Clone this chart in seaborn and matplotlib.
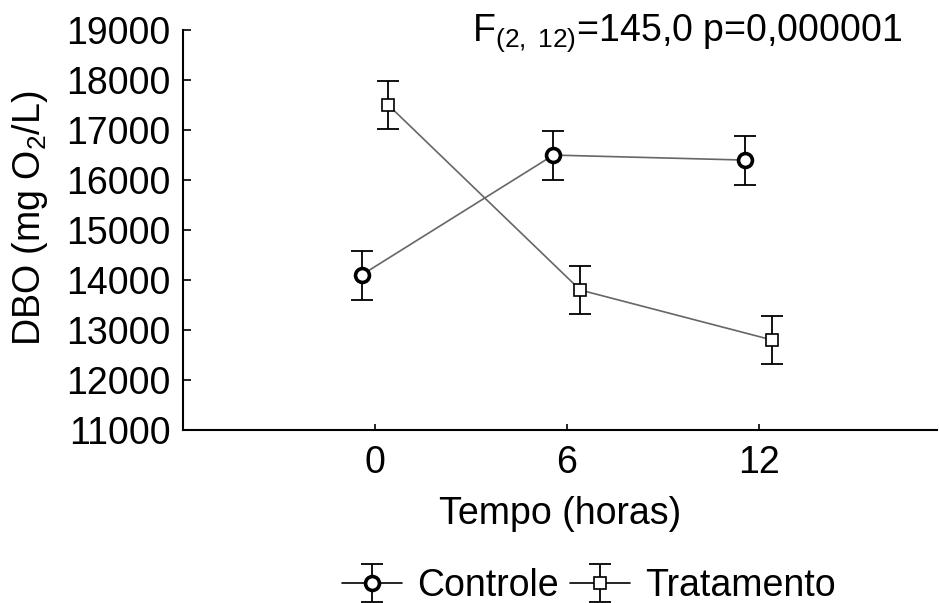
import matplotlib
matplotlib.use("Agg")
import matplotlib.pyplot as plt
import seaborn as sns
import numpy as np
import pandas as pd
from matplotlib.legend_handler import HandlerTuple
from matplotlib.lines import Line2D

tempo = ["0", "6", "12"]
controle = [14100, 16500, 16400]
controle_err = [490, 490, 490]
tratamento = [17500, 13800, 12800]
tratamento_err = [480, 480, 480]
yticks = [11000, 12000, 13000, 14000, 15000, 16000, 17000, 18000, 19000]
annot = r"F$_{\mathregular{(2,\ 12)}}$=145,0 p=0,000001"

sns.set_style("ticks")
plt.rcParams['font.family'] = ['Liberation Sans', 'DejaVu Sans']
plt.rcParams['mathtext.fontset'] = 'custom'
plt.rcParams['mathtext.rm'] = 'Liberation Sans'
plt.rcParams['mathtext.it'] = 'Liberation Sans'
plt.rcParams['text.color'] = 'black'
plt.rcParams['axes.labelcolor'] = 'black'
plt.rcParams['xtick.color'] = 'black'
plt.rcParams['ytick.color'] = 'black'

FS = 27
fig = plt.figure(figsize=(9.39, 6.03), dpi=100)
ax = fig.add_axes([0.195, 0.287, 0.803, 0.663])

pos = np.arange(len(tempo))
off = 0.07
dfc = pd.DataFrame({"x": pos - off, "y": controle})
dft = pd.DataFrame({"x": pos + off, "y": tratamento})

sns.lineplot(data=dfc, x="x", y="y", ax=ax, color="#666666", lw=1.2,
             marker="o", markersize=10, markerfacecolor="white",
             markeredgecolor="black", markeredgewidth=2.6, zorder=3)
sns.lineplot(data=dft, x="x", y="y", ax=ax, color="#666666", lw=1.2,
             marker="s", markersize=8.5, markerfacecolor="white",
             markeredgecolor="black", markeredgewidth=1.2, zorder=3)
ebc = ax.errorbar(pos - off, controle, yerr=controle_err, fmt="none",
                  ecolor="black", elinewidth=1.3, capsize=8, capthick=1.3, zorder=2)
ebt = ax.errorbar(pos + off, tratamento, yerr=tratamento_err, fmt="none",
                  ecolor="black", elinewidth=1.3, capsize=8, capthick=1.3, zorder=2)

ax.set_xlim(-1.0, 2.93)
ax.set_ylim(11000, 19000)
ax.set_xticks(pos)
ax.set_xticklabels(tempo)
ax.set_yticks(yticks)
ax.set_yticklabels([str(v) for v in yticks])
ax.tick_params(axis="both", direction="in", length=6, width=1.2,
               labelsize=FS, color="black", labelcolor="black")
ax.tick_params(axis="y", pad=9)
ax.tick_params(axis="x", length=4, pad=11)
for s in ["top", "right"]:
    ax.spines[s].set_visible(False)
for s in ["left", "bottom"]:
    ax.spines[s].set_linewidth(1.5)
    ax.spines[s].set_color("black")

ax.set_xlabel("Tempo (horas)", fontsize=FS, labelpad=11, color="black")
ax.set_ylabel(r"DBO (mg O$_\mathregular{2}$/L)", fontsize=FS, labelpad=12, color="black")
ax.yaxis.label.set_y(0.53)

fig.text(0.732, 0.945, annot, ha="center", va="center", fontsize=FS, color="black")

hc = Line2D([], [], color="black", lw=1.2, marker="o", markersize=10,
            markerfacecolor="white", markeredgecolor="black", markeredgewidth=2.6)
ht = Line2D([], [], color="black", lw=1.2, marker="s", markersize=8.5,
            markerfacecolor="white", markeredgecolor="black", markeredgewidth=1.2)
fig.legend([(ebc, hc), (ebt, ht)], ["Controle", "Tratamento"],
           handler_map={tuple: HandlerTuple(ndivide=1)},
           loc="center", bbox_to_anchor=(0.627, 0.028), ncol=2, frameon=False,
           fontsize=FS, handlelength=1.6, handletextpad=0.4, columnspacing=0.3,
           labelcolor="black")

fig.savefig("out.png", dpi=100)
